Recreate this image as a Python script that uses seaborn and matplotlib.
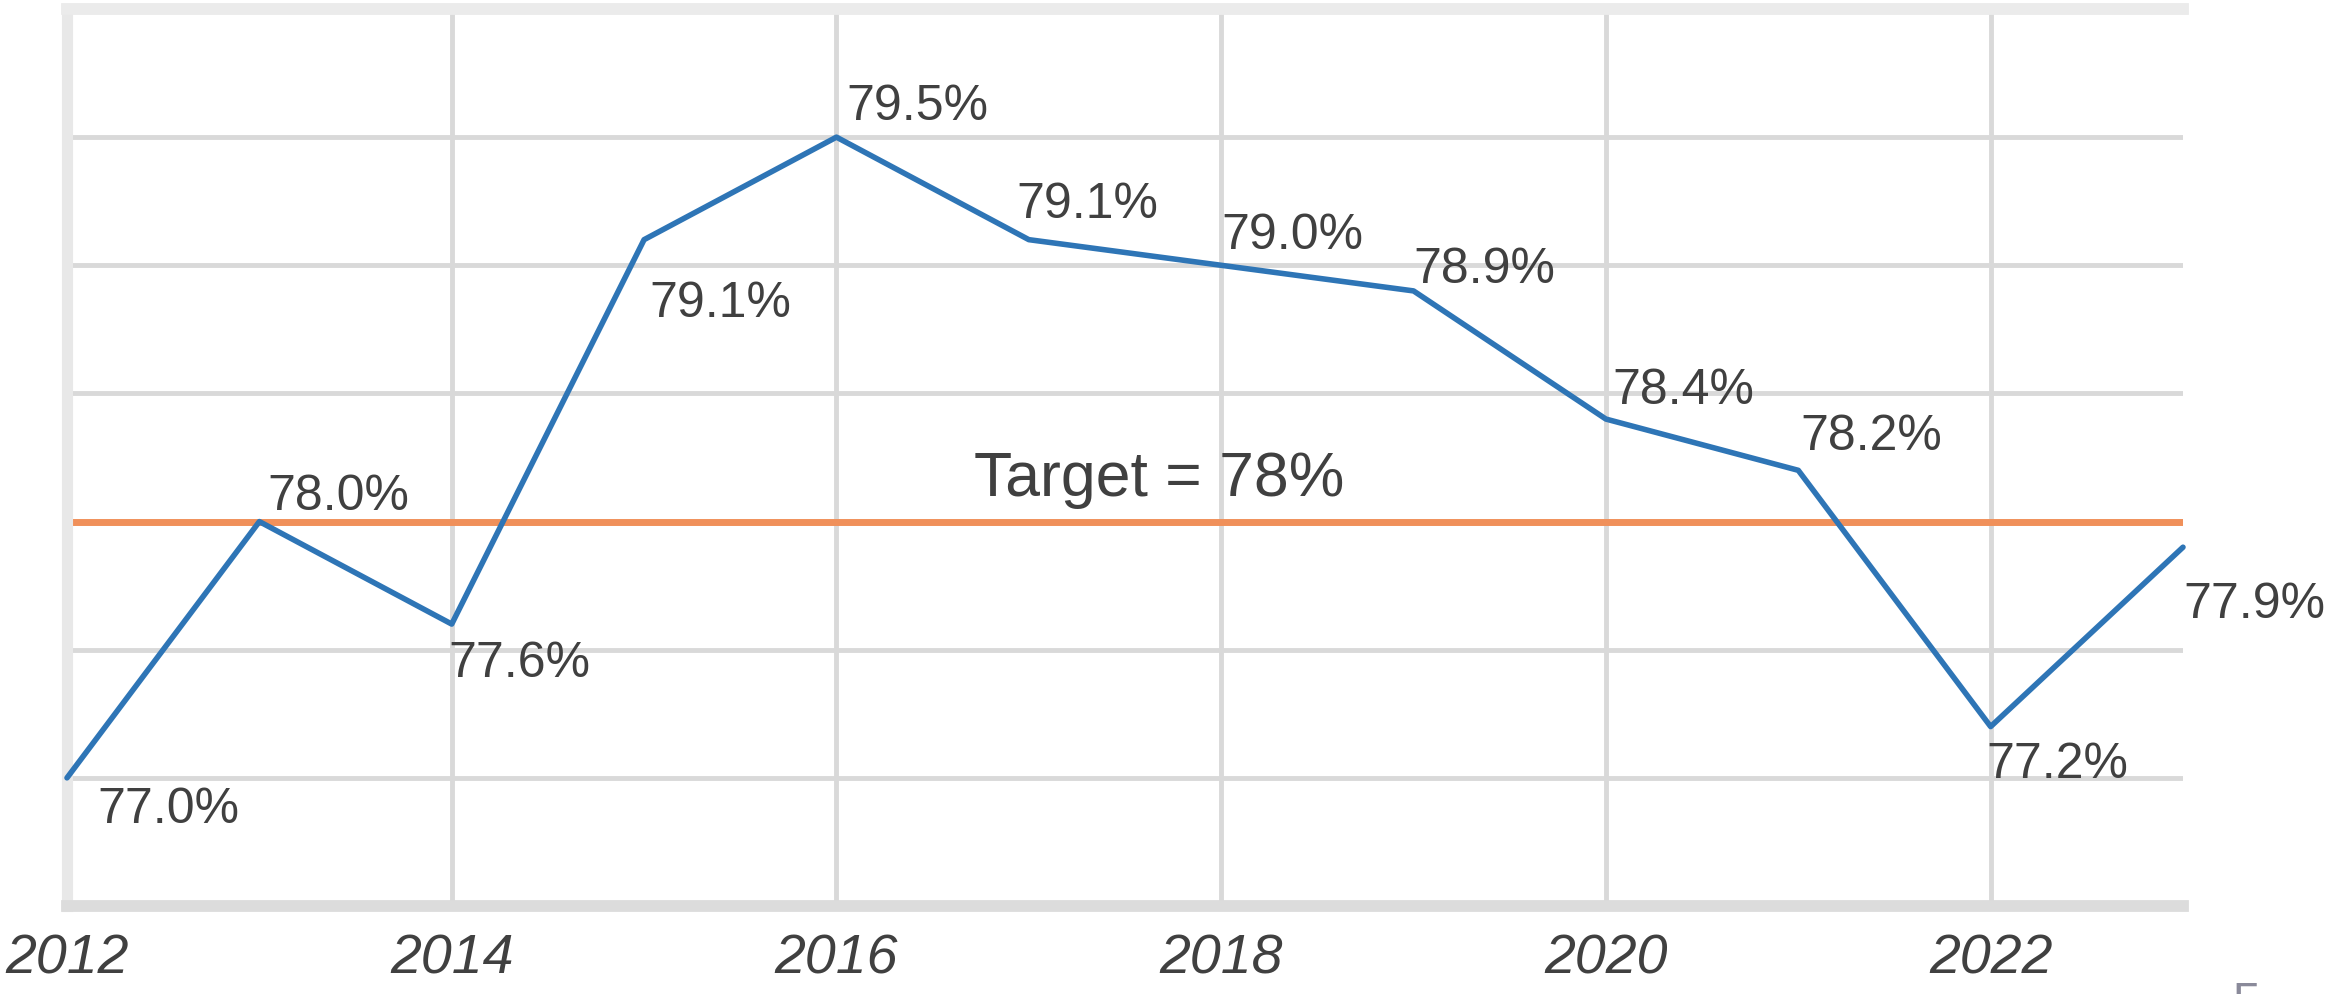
import seaborn as sns
import matplotlib.pyplot as plt
import numpy as np
import pandas as pd

# values
years = [2012, 2013, 2014, 2015, 2016, 2017, 2018, 2019, 2020, 2021, 2022, 2023]
rates = [77.0, 78.0, 77.6, 79.1, 79.5, 79.1, 79.0, 78.9, 78.4, 78.2, 77.2, 77.9]
target = 78.0
target_label = 'Target = 78%'
year_ticks = [2012, 2014, 2016, 2018, 2020, 2022]

# label placement, in pixels: (dx right, label centre below point)
label_offsets = [(30, 26), (8, -31), (-3, 34), (5, 58), (10, -36), (-12, -41),
                 (0, -35), (0, -27), (6, -34), (2, -39), (-4, 32), (0, 52)]

df = pd.DataFrame({'year': years, 'rate': rates})

sns.set_theme(style='white')
plt.rcParams['font.family'] = ['Liberation Sans', 'DejaVu Sans']

dpi = 100
fig = plt.figure(figsize=(23.31, 9.94), dpi=dpi)
ax = fig.add_axes([67 / 2331, 88 / 994, (2183 - 67) / 2331, (906 - 9) / 994])

txt = '#404040'
px = 72 / dpi  # points per pixel

ax.axhline(target, color='#f0905a', lw=5, zorder=2)
sns.lineplot(data=df, x='year', y='rate', ax=ax, color='#2e75b6', lw=4,
             zorder=3, clip_on=False)

for yr, v, (dx, dy) in zip(years, rates, label_offsets):
    ax.annotate(f'{v:.1f}%', (yr, v), xytext=(dx * px, -(dy + 19) * px),
                textcoords='offset points', ha='left', va='baseline',
                fontsize=36, color=txt, annotation_clip=False)

ax.text(2017.68, 78.1, target_label, ha='center', va='baseline',
        fontsize=45, color=txt)

ax.set_xlim(2012, 2023)
ax.set_ylim(76.5, 80.0)
ax.set_xticks(year_ticks)
ax.set_xticklabels([str(y) for y in year_ticks], fontstyle='italic',
                   fontsize=40, color=txt)
ax.set_yticks(np.arange(76.5, 80.01, 0.5))
ax.set_yticklabels([])
ax.tick_params(length=0, axis='x', pad=20)
ax.tick_params(length=0, axis='y')
ax.grid(True, color='#d9d9d9', lw=3.5, zorder=0)
ax.set_axisbelow(True)
ax.set_xlabel('')
ax.set_ylabel('')

ax.spines['right'].set_visible(False)
ax.spines['bottom'].set_color('#dcdcdc')
ax.spines['bottom'].set_linewidth(8.5)
ax.spines['left'].set_color('#e8e8e8')
ax.spines['left'].set_linewidth(8)
ax.spines['top'].set_color('#ebebeb')
ax.spines['top'].set_linewidth(8.5)

# page number, cut off at the bottom edge
fig.text(2233 / 2331, 12 / 994, '5', ha='left', va='top', fontsize=36,
         color='#8a8a9a')

fig.savefig('out.png', dpi=dpi, facecolor='white')
